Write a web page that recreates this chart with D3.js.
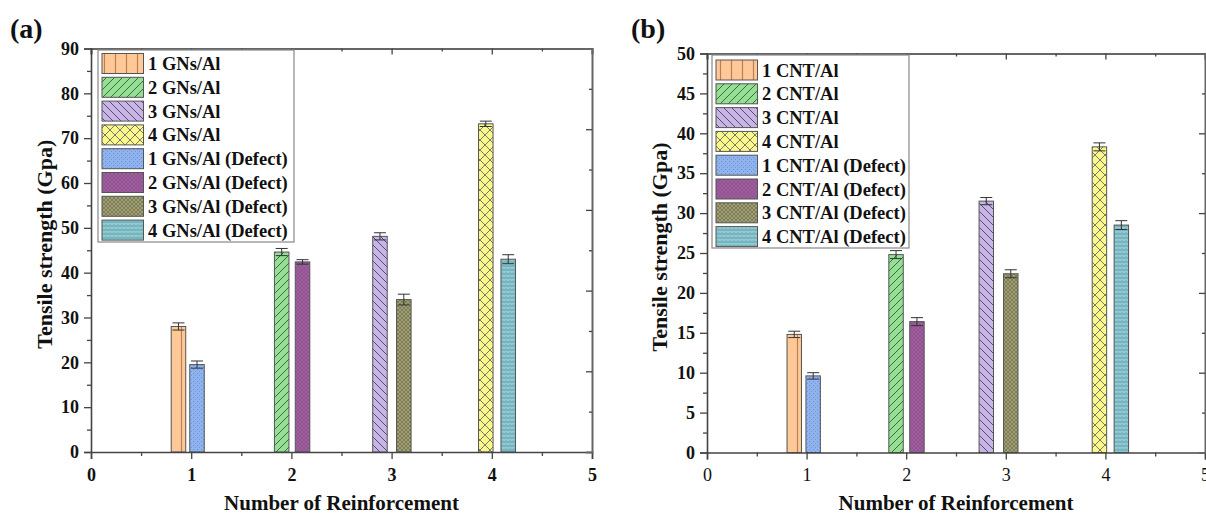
<!DOCTYPE html>
<html>
<head>
<meta charset="utf-8">
<script src="https://cdn.jsdelivr.net/npm/d3@7"></script>
<style>
  body { margin: 0; background: #fff; }
  svg { display: block; font-family: "Liberation Serif", "Times New Roman", serif; }
  svg text { font-family: "Liberation Serif", "Times New Roman", serif; }
  .tick text { font-weight: bold; fill: #111; }
</style>
</head>
<body>
<script>
// ---- data ----
var labelsA = ["1 GNs/Al", "2 GNs/Al", "3 GNs/Al", "4 GNs/Al",
               "1 GNs/Al (Defect)", "2 GNs/Al (Defect)", "3 GNs/Al (Defect)", "4 GNs/Al (Defect)"];
var labelsB = ["1 CNT/Al", "2 CNT/Al", "3 CNT/Al", "4 CNT/Al",
               "1 CNT/Al (Defect)", "2 CNT/Al (Defect)", "3 CNT/Al (Defect)", "4 CNT/Al (Defect)"];

// bar order in the plot: 1, 1 defect, 2, 2 defect, ...  (legend index)
var barOrder = [0, 4, 1, 5, 2, 6, 3, 7];

// x value of each bar (in legend order)
var xA = [0.873, 1.903, 2.884, 3.940, 1.058, 2.111, 3.122, 4.164];
var xB = [0.876, 1.898, 2.804, 3.940, 1.066, 2.108, 3.050, 4.160];

// tensile strength (GPa), legend order
var valuesA = [28.0, 44.6, 48.1, 73.2, 19.5, 42.4, 34.0, 43.0];
var valuesB = [14.8, 24.8, 31.5, 38.3, 9.6, 16.4, 22.4, 28.5];

var errA = [0.8, 0.8, 0.8, 0.6, 0.8, 0.5, 1.2, 1.0];
var errB = [0.4, 0.5, 0.45, 0.5, 0.4, 0.5, 0.5, 0.55];

var xTicks = [0, 1, 2, 3, 4, 5];
var yTicksA = [0, 10, 20, 30, 40, 50, 60, 70, 80, 90];
var yTicksB = [0, 5, 10, 15, 20, 25, 30, 35, 40, 45, 50];

// ---- drawing ----
var svgWidth = 1206;
var svgHeight = 516;
var serif = "Liberation Serif, Times New Roman, serif";

var svg = d3.select("body").append("svg")
    .attr("width", svgWidth)
    .attr("height", svgHeight);

var defs = svg.append("defs");

// hatch patterns for the eight series
function hatch(id, bg, size, draw) {
    var p = defs.append("pattern")
        .attr("id", id)
        .attr("patternUnits", "userSpaceOnUse")
        .attr("width", size)
        .attr("height", size);
    p.append("rect").attr("width", size).attr("height", size).attr("fill", bg);
    draw(p, size);
}

function line(p, x1, y1, x2, y2, col, w) {
    p.append("line").attr("x1", x1).attr("y1", y1).attr("x2", x2).attr("y2", y2)
        .attr("stroke", col).attr("stroke-width", w || 1);
}

hatch("p0", "#FFC896", 11, function (p, s) { line(p, 5.5, 0, 5.5, s, "#b8805a", 1.2); });
hatch("p1", "#95DF95", 8, function (p, s) {
    line(p, 0, s, s, 0, "#3f6b3f", 1); line(p, -2, 2, 2, -2, "#3f6b3f", 1); line(p, s - 2, s + 2, s + 2, s - 2, "#3f6b3f", 1);
});
hatch("p2", "#C9B4E7", 8, function (p, s) {
    line(p, 0, 0, s, s, "#55506a", 1); line(p, -2, s - 2, 2, s + 2, "#55506a", 1); line(p, s - 2, -2, s + 2, 2, "#55506a", 1);
});
hatch("p3", "#FAF78C", 10, function (p, s) {
    line(p, 0, 0, s, s, "#7a7a60", 1); line(p, 0, s, s, 0, "#7a7a60", 1);
});
hatch("p4", "#8FB4EF", 4, function (p, s) {
    p.append("rect").attr("x", 1).attr("y", 1).attr("width", 1.2).attr("height", 1.2).attr("fill", "#6f94d2");
    p.append("rect").attr("x", 3).attr("y", 3).attr("width", 1.2).attr("height", 1.2).attr("fill", "#6f94d2");
});
hatch("p5", "#9E5E9D", 4, function (p, s) {
    line(p, 0, 0, s, s, "#8a4c89", 0.6); line(p, 0, s, s, 0, "#8a4c89", 0.6);
});
hatch("p6", "#A0A072", 4, function (p, s) {
    line(p, 0, 0, s, s, "#6e6e4c", 0.7); line(p, 0, s, s, 0, "#6e6e4c", 0.7);
});
hatch("p7", "#90CAD3", 4, function (p, s) {
    line(p, 0, 2, s, 2, "#5f9ea8", 1);
    p.append("circle").attr("cx", 2).attr("cy", 0).attr("r", 0.6).attr("fill", "#5f9ea8");
});

var axisColor = "#444";
var barWidth = 0.145;

function drawPanel(cfg) {
    var x = d3.scaleLinear().domain([0, 5]).range([cfg.left, cfg.right]);
    var y = d3.scaleLinear().domain([0, cfg.yMax]).range([cfg.bottom, cfg.top]);
    var g = svg.append("g");

    // bars
    barOrder.forEach(function (i) {
        var x0 = x(cfg.xs[i] - barWidth / 2);
        var x1 = x(cfg.xs[i] + barWidth / 2);
        g.append("rect")
            .attr("x", x0)
            .attr("y", y(cfg.values[i]))
            .attr("width", x1 - x0)
            .attr("height", y(0) - y(cfg.values[i]))
            .attr("fill", "url(#p" + i + ")")
            .attr("stroke", "#555")
            .attr("stroke-width", 1);
    });

    // error bars
    barOrder.forEach(function (i) {
        var cx = x(cfg.xs[i]);
        var hi = y(cfg.values[i] + cfg.err[i]);
        var lo = y(cfg.values[i] - cfg.err[i]);
        var eb = g.append("g").attr("stroke", "#333").attr("stroke-width", 1);
        eb.append("line").attr("x1", cx).attr("x2", cx).attr("y1", hi).attr("y2", lo);
        eb.append("line").attr("x1", cx - 6).attr("x2", cx + 6).attr("y1", hi).attr("y2", hi);
        eb.append("line").attr("x1", cx - 6).attr("x2", cx + 6).attr("y1", lo).attr("y2", lo);
    });

    // minor ticks
    var minorX = d3.range(0.5, 5, 1);
    var minorY = cfg.yTicks.slice(0, -1).map(function (d, k) { return (d + cfg.yTicks[k + 1]) / 2; });

    function styleAxis(sel) {
        sel.attr("font-family", null);
        sel.selectAll("text").style("font-family", serif);
        sel.select(".domain").attr("stroke", axisColor).attr("stroke-width", 1.6);
        sel.selectAll(".tick line").attr("stroke", axisColor).attr("stroke-width", 1.3);
    }

    // bottom
    var bx = g.append("g").attr("transform", "translate(0," + cfg.bottom + ")")
        .call(d3.axisBottom(x).tickValues(xTicks).tickSize(7).tickPadding(9).tickFormat(d3.format("d")));
    styleAxis(bx);
    bx.selectAll("text").style("font-size", "18px").style("font-weight", cfg.xBold ? "bold" : "normal");
    var bxm = g.append("g").attr("transform", "translate(0," + cfg.bottom + ")")
        .call(d3.axisBottom(x).tickValues(minorX).tickSize(4).tickFormat(""));
    bxm.select(".domain").remove();
    styleAxis(bxm);

    // top (inward ticks)
    var tx = g.append("g").attr("transform", "translate(0," + cfg.top + ")")
        .call(d3.axisBottom(x).tickValues(xTicks).tickSize(6).tickFormat(""));
    styleAxis(tx);
    tx.select(".domain").attr("stroke", "#666").attr("stroke-width", 2);
    var txm = g.append("g").attr("transform", "translate(0," + cfg.top + ")")
        .call(d3.axisBottom(x).tickValues(minorX).tickSize(3).tickFormat(""));
    txm.select(".domain").remove();
    styleAxis(txm);

    // left
    var ly = g.append("g").attr("transform", "translate(" + cfg.left + ",0)")
        .call(d3.axisLeft(y).tickValues(cfg.yTicks).tickSize(7).tickPadding(5));
    styleAxis(ly);
    ly.selectAll("text").style("font-size", "18px");
    var lym = g.append("g").attr("transform", "translate(" + cfg.left + ",0)")
        .call(d3.axisLeft(y).tickValues(minorY).tickSize(4).tickFormat(""));
    lym.select(".domain").remove();
    styleAxis(lym);

    // right frame: its own 10-step tick scale, ticks pointing inward
    var yr = d3.scaleLinear().domain([0, 100]).range([cfg.bottom, cfg.top]);
    var ry = g.append("g").attr("transform", "translate(" + cfg.right + ",0)")
        .call(d3.axisRight(yr).tickValues([20, 40, 60, 80]).tickSize(-6).tickFormat(""));
    styleAxis(ry);
    ry.select(".domain").attr("stroke", "#666").attr("stroke-width", 2);
    var rym = g.append("g").attr("transform", "translate(" + cfg.right + ",0)")
        .call(d3.axisRight(yr).tickValues([10, 30, 50, 70, 90]).tickSize(-3).tickFormat(""));
    rym.select(".domain").remove();
    styleAxis(rym);

    // axis titles
    g.append("text")
        .attr("x", (cfg.left + cfg.right) / 2)
        .attr("y", 510)
        .attr("text-anchor", "middle")
        .style("font-size", "21px").style("font-weight", "bold").attr("fill", "#111")
        .text("Number of Reinforcement");

    g.append("text")
        .attr("transform", "translate(" + (cfg.yTitleX + 7) + "," + ((cfg.top + cfg.bottom) / 2 - 6) + ") rotate(-90)")
        .attr("text-anchor", "middle")
        .style("font-size", "22px").style("font-weight", "bold").attr("fill", "#111")
        .text("Tensile strength (Gpa)");

    // panel letter
    g.append("text")
        .attr("x", cfg.letterX).attr("y", 38)
        .style("font-size", "28px").style("font-weight", "bold").attr("fill", "#111")
        .text(cfg.letter);

    // legend
    var L = cfg.legend;
    var rowH = 23.8;
    g.append("rect")
        .attr("x", L.x).attr("y", L.y)
        .attr("width", L.w).attr("height", L.h)
        .attr("fill", "#fff").attr("stroke", "#888").attr("stroke-width", 1.2);
    cfg.labels.forEach(function (name, i) {
        var cy = L.firstRow + i * rowH;
        g.append("rect")
            .attr("x", L.x + 4).attr("y", cy - 10)
            .attr("width", 41.5).attr("height", 20)
            .attr("fill", "url(#p" + i + ")")
            .attr("stroke", "#555").attr("stroke-width", 1);
        g.append("text")
            .attr("x", L.x + 50).attr("y", cy + 6.5)
            .style("font-size", "18.5px").style("font-weight", "bold").attr("fill", "#111")
            .text(name);
    });
}

drawPanel({
    left: 91, right: 592, top: 48.5, bottom: 452,
    yMax: 90, yTicks: yTicksA,
    xs: xA, values: valuesA, err: errA, labels: labelsA,
    xBold: true, yTitleX: 45, letter: "(a)", letterX: 10,
    legend: { x: 98, y: 50, w: 196, h: 192, firstRow: 63.5 }
});

drawPanel({
    left: 707, right: 1205, top: 53.5, bottom: 452.5,
    yMax: 50, yTicks: yTicksB,
    xs: xB, values: valuesB, err: errB, labels: labelsB,
    xBold: false, yTitleX: 660, letter: "(b)", letterX: 631,
    legend: { x: 712, y: 55, w: 197, h: 193, firstRow: 70 }
});
</script>
</body>
</html>
